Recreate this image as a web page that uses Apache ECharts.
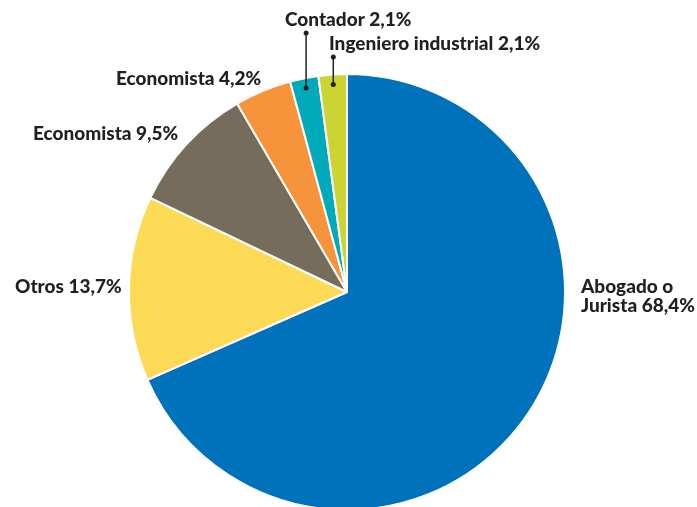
<!DOCTYPE html>
<html>
<head>
<meta charset="utf-8">
<script src="https://cdn.jsdelivr.net/npm/echarts@6/dist/echarts.min.js"></script>
<style>
  html, body { margin: 0; padding: 0; background: #fff; }
  #chart { width: 697px; height: 507px; }
</style>
</head>
<body>
<div id="chart"></div>
<script>
// Profesión de los integrantes (porcentaje)
const categories = ['Abogado o\nJurista', 'Otros', 'Economista', 'Economista', 'Contador', 'Ingeniero industrial'];
const shares = [68.4, 13.7, 9.5, 4.2, 2.1, 2.1];
const colors = ['#0071BB', '#FDDA55', '#766C5C', '#F7933B', '#00AAB9', '#CBD432'];

// Layout of the pie and of each label (left edge, vertical middle)
const CX = 347, CY = 292, R = 218;
const labelPos = [
  [581, 296],
  [15, 287],
  [33, 134],
  [116, 79],
  [285, 20],
  [329, 44]
];
// Slices whose label sits above the pie and is joined by a vertical leader
const leaderIdx = [4, 5];

const fmt = v => v.toFixed(1).replace('.', ',') + '%';

const chart = echarts.init(document.getElementById('chart'), null, { renderer: 'canvas' });

// Mid-angle of each slice, clockwise from 12 o'clock
const total = shares.reduce((a, b) => a + b, 0);
const midAngles = [];
let acc = 0;
shares.forEach(v => {
  midAngles.push(((acc + v / 2) / total) * 2 * Math.PI);
  acc += v;
});

const graphics = [];
leaderIdx.forEach(i => {
  const a = midAngles[i];
  const r = 208;
  const x = CX + r * Math.sin(a);
  const yBottom = CY - r * Math.cos(a);
  const yTop = labelPos[i][1] + 13;
  graphics.push({
    type: 'line', silent: true,
    shape: { x1: x, y1: yTop, x2: x, y2: yBottom },
    style: { stroke: '#231F20', lineWidth: 1.5 }, z: 10
  });
  [yTop, yBottom].forEach(y => graphics.push({
    type: 'circle', silent: true,
    shape: { cx: x, cy: y, r: 2.5 },
    style: { fill: '#231F20' }, z: 10
  }));
});

chart.setOption({
  animation: false,
  graphic: graphics,
  series: [{
    type: 'pie',
    center: [CX, CY],
    radius: [0, R],
    startAngle: 90,
    clockwise: true,
    avoidLabelOverlap: false,
    itemStyle: { borderColor: '#ffffff', borderWidth: 2 },
    label: {
      show: true,
      position: 'outside',
      color: '#231F20',
      fontFamily: 'Lato',
      fontWeight: 900,
      fontSize: 19,
      lineHeight: 19,
      formatter: p => p.name + ' ' + fmt(p.value)
    },
    labelLine: { show: false },
    labelLayout: p => ({
      x: labelPos[p.dataIndex][0],
      y: labelPos[p.dataIndex][1],
      align: 'left',
      verticalAlign: 'middle'
    }),
    data: categories.map((c, i) => ({
      name: c,
      value: shares[i],
      itemStyle: { color: colors[i] }
    }))
  }]
});
</script>
</body>
</html>
